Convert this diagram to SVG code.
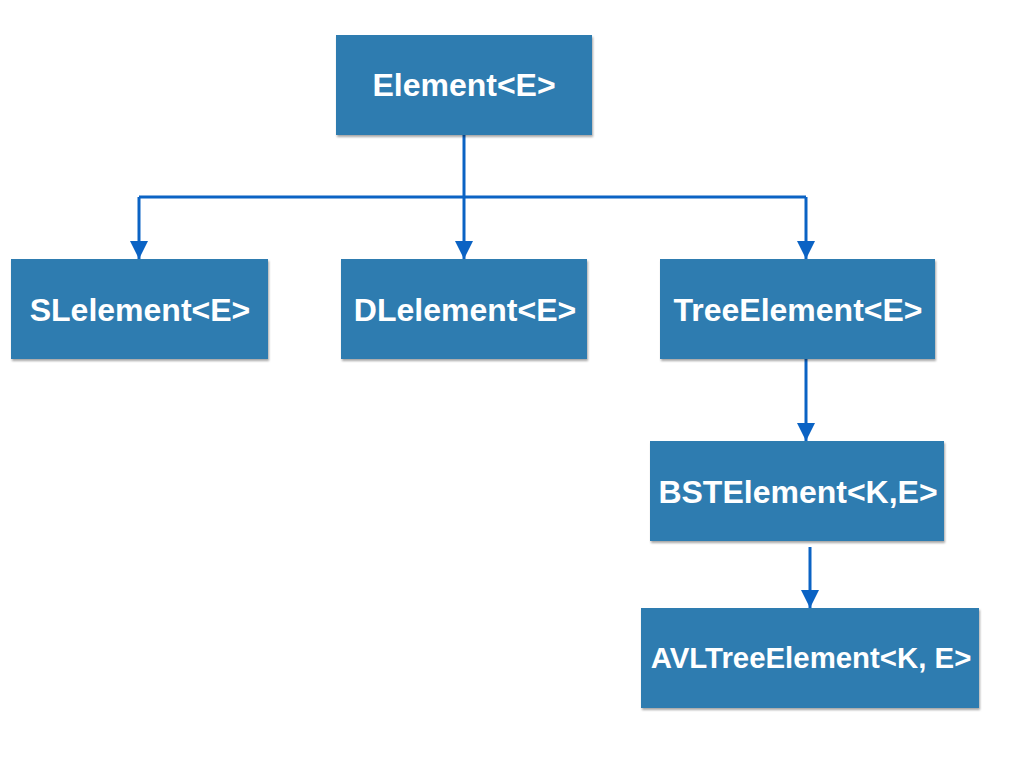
<svg xmlns="http://www.w3.org/2000/svg" width="1024" height="768" viewBox="0 0 1024 768">
  <defs>
    <style>
      .box { fill: #2e7bb0; filter: url(#shadow); }
      .label { font-family: "Liberation Sans", Arial, sans-serif; font-weight: bold; font-size: 32px; fill: #ffffff; text-anchor: middle; }
      .small { font-size: 29.4px; }
      .conn { fill: none; stroke: #0b63c4; stroke-width: 3; }
    </style>
    <filter id="shadow" x="-5%" y="-5%" width="110%" height="120%">
      <feDropShadow dx="1" dy="2" stdDeviation="1.2" flood-color="#000000" flood-opacity="0.35"/>
    </filter>
    <marker id="arrow" markerUnits="userSpaceOnUse" markerWidth="18" markerHeight="18" viewBox="0 0 16 16" refX="16" refY="8" orient="auto">
      <path d="M0,0 L16,8 L0,16 Z" fill="#0b63c4"/>
    </marker>
  </defs>
  <rect width="1024" height="768" fill="#ffffff"/>

  <g id="connectors">
    <path class="conn" d="M139,197 H806"/>
    <path class="conn" d="M464,135 V259" marker-end="url(#arrow)"/>
    <path class="conn" d="M139,197 V259" marker-end="url(#arrow)"/>
    <path class="conn" d="M806,197 V259" marker-end="url(#arrow)"/>
    <path class="conn" d="M806,359 V441" marker-end="url(#arrow)"/>
    <path class="conn" d="M810,547 V608" marker-end="url(#arrow)"/>
  </g>

  <g id="node-element">
    <rect class="box" x="336" y="35" width="256" height="100"/>
    <text class="label" x="464" y="96">Element&lt;E&gt;</text>
  </g>
  <g id="node-slelement">
    <rect class="box" x="11" y="259" width="257" height="100"/>
    <text class="label" x="140" y="321">SLelement&lt;E&gt;</text>
  </g>
  <g id="node-dlelement">
    <rect class="box" x="341" y="259" width="246" height="100"/>
    <text class="label" x="465" y="321">DLelement&lt;E&gt;</text>
  </g>
  <g id="node-treeelement">
    <rect class="box" x="660" y="259" width="275" height="100"/>
    <text class="label" x="798" y="321">TreeElement&lt;E&gt;</text>
  </g>
  <g id="node-bstelement">
    <rect class="box" x="650" y="441" width="294" height="100"/>
    <text class="label" x="798" y="503">BSTElement&lt;K,E&gt;</text>
  </g>
  <g id="node-avltreeelement">
    <rect class="box" x="641" y="608" width="338" height="100"/>
    <text class="label small" x="811" y="668">AVLTreeElement&lt;K, E&gt;</text>
  </g>
</svg>
